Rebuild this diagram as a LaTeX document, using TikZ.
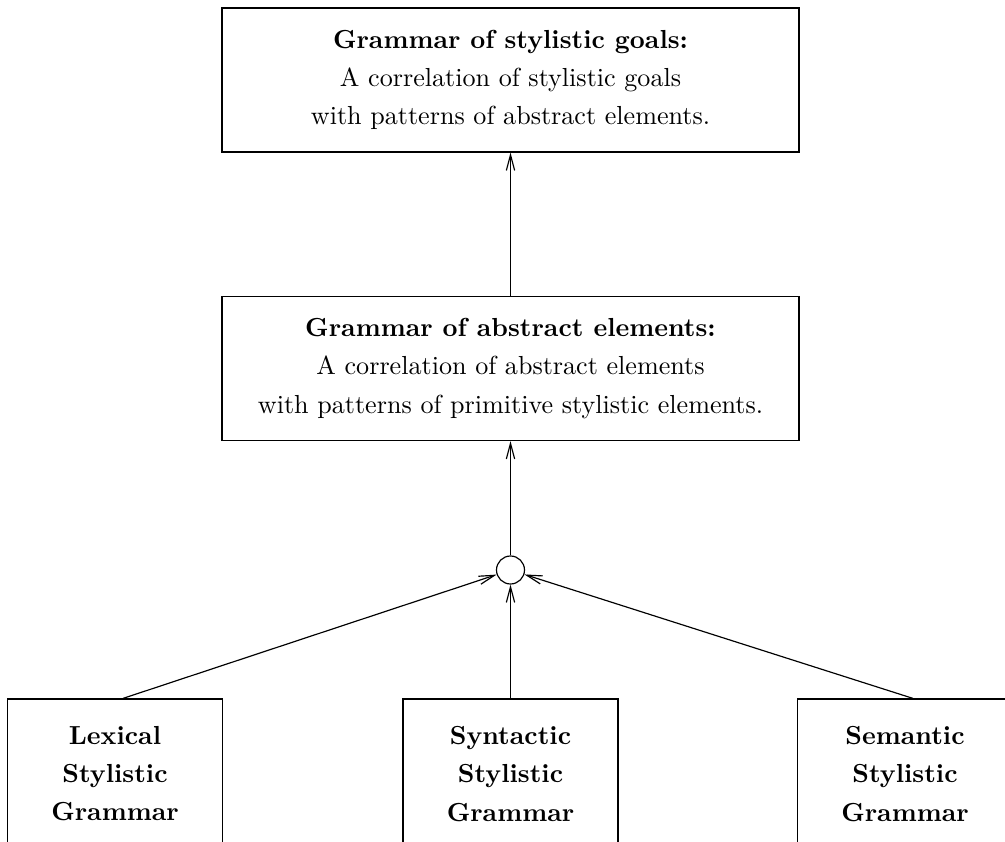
\documentclass[tikz,border=0pt]{standalone}
\usetikzlibrary{arrows.meta}
\def\px{0.3833pt}
\begin{document}
\begin{tikzpicture}[x=0.3833pt,y=-0.3833pt,
  box/.style={draw,line width=0.45pt,rectangle,inner sep=0pt,align=center,
    font=\fontsize{10}{14.6}\selectfont},
  bigbox/.style={box,minimum width=577*\px,minimum height=144*\px},
  smallbox/.style={box,minimum width=215*\px,minimum height=150*\px},
  joint/.style={draw,line width=0.45pt,circle,minimum size=28*\px,inner sep=0pt},
  link/.style={line width=0.45pt,-{Straight Barb[length=6pt,width=3.2pt]}}]
\clip (0,0) rectangle (1005,842);
\fill[white] (0,0) rectangle (1005,842);
\node[bigbox] (goals) at (510.5,80)
  {\textbf{Grammar of stylistic goals:}\\ A correlation of stylistic goals\\ with patterns of abstract elements.};
\node[bigbox] (abstract) at (510.5,368.5)
  {\textbf{Grammar of abstract elements:}\\ A correlation of abstract elements\\ with patterns of primitive stylistic elements.};
\node[joint] (join) at (510.5,570) {};
\node[smallbox] (lex) at (115,774)
  {\textbf{Lexical}\\ \textbf{Stylistic}\\ \textbf{Grammar}};
\node[smallbox] (syn) at (510.5,774)
  {\textbf{Syntactic}\\ \textbf{Stylistic}\\ \textbf{Grammar}};
\node[smallbox] (sem) at (905,774)
  {\textbf{Semantic}\\ \textbf{Stylistic}\\ \textbf{Grammar}};
\draw[link] (abstract.north) -- (goals.south);
\draw[link] (join.north) -- (abstract.south);
\draw[link] ([xshift=8*\px]lex.north) -- (join);
\draw[link] (syn.north) -- (join.south);
\draw[link] ([xshift=8*\px]sem.north) -- (join);
\end{tikzpicture}
\end{document}
